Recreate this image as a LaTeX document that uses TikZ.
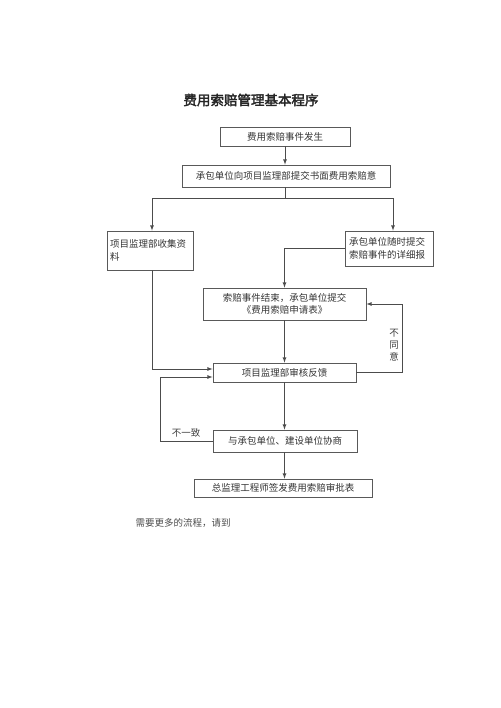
\documentclass[tikz,border=0pt]{standalone}
\usepackage{fontspec}
\setmainfont{Noto Sans CJK SC}
\newfontfamily\titlefont[FakeBold=2.5]{Noto Sans CJK SC}
\usepackage{tikz}
\usetikzlibrary{positioning}
\usepackage{xcolor}

\begin{document}
\begin{tikzpicture}[
    x=1pt, y=-1pt,
    box/.style={rectangle, draw=black!65, line width=0.8pt, text=black!80, inner sep=1pt, font=\fontsize{9.5}{12.5}\selectfont},
    arrow/.style={->, >=latex, draw=black!70, line width=0.8pt},
    line/.style={draw=black!70, line width=0.8pt},
    note/.style={text=black!75, font=\fontsize{9.5}{12}\selectfont}
]
    \useasboundingbox (0,0) rectangle (500,708);

    % Title
    \node[font=\titlefont\fontsize{13.5}{15}\selectfont, text=black!85] (title) at (251,100) {费用索赔管理基本程序};

    % Main boxes
    \node[box, minimum width=130pt, minimum height=19pt] (occur) at (285,136.5) {费用索赔事件发生};
    \node[box, minimum width=208pt, minimum height=22pt] (notice) at (286,176) {承包单位向项目监理部提交书面费用索赔意};
    \node[box, minimum width=86pt, minimum height=39pt, text width=80pt, align=left] (collect) at (150,250.5) {项目监理部收集资\\料};
    \node[box, minimum width=88pt, minimum height=35pt, text width=80pt, align=left] (report) at (389,248.5) {承包单位随时提交\\索赔事件的详细报};
    \node[box, minimum width=163pt, minimum height=32pt, align=center] (apply) at (284.5,304) {索赔事件结束，承包单位提交\\《费用索赔申请表》};
    \node[box, minimum width=143pt, minimum height=19pt] (review) at (284.5,372.5) {项目监理部审核反馈};
    \node[box, minimum width=144pt, minimum height=22pt] (consult) at (285,441) {与承包单位、建设单位协商};
    \node[box, minimum width=178pt, minimum height=18pt] (approve) at (283,488) {总监理工程师签发费用索赔审批表};

    % Split point under the notice box
    \coordinate (split) at (285,198);

    % Arrows
    \draw[arrow] (occur.south) -- (occur.south |- notice.north);
    \draw[line] (split |- notice.south) -- (split);
    \draw[arrow] (split) -| ([xshift=2pt]collect.north);
    \draw[arrow] (split) -| ([xshift=4pt]report.north);
    \draw[arrow] (report.west) -| (apply.north);
    \draw[arrow] (apply.south) -- (apply.south |- review.north);
    \draw[arrow] ([xshift=2pt]collect.south) |- ([yshift=3.5pt]review.west);
    \draw[arrow] (review.south) -- (review.south |- consult.north);
    \draw[arrow] (review.south |- consult.south) -- (review.south |- approve.north);

    % Feedback loops
    \draw[arrow] (review.east) -- ++(46,0) |- (apply.east);
    \draw[arrow] (consult.west) -- ++(-52,0) |- ([yshift=-4.5pt]review.west);

    % Loop labels
    \node[note, align=center] (disagree) at (394,345) {不\\同\\意};
    \node[note] (differ) at (186,433) {不一致};

    % Footer text
    \node[note, anchor=west, text=black!70] (more) at (132,523) {需要更多的流程，请到};
\end{tikzpicture}
\end{document}
